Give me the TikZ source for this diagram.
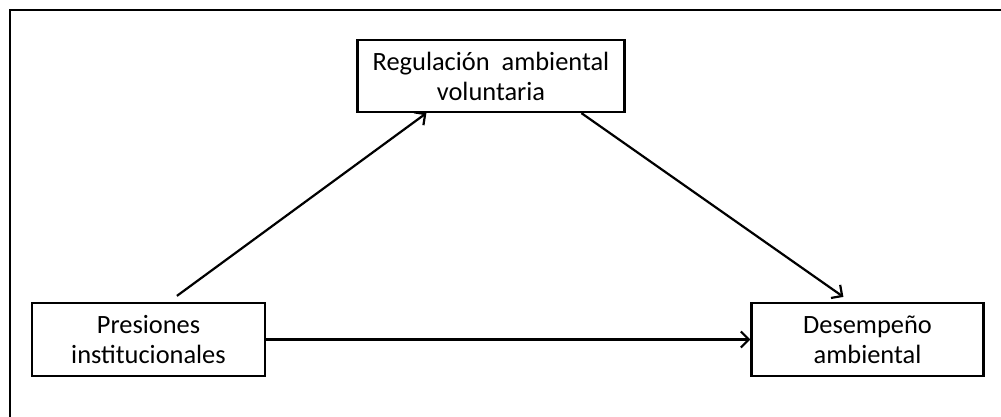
\documentclass[tikz,border=0pt]{standalone}
\usepackage{fontspec}
\setmainfont{Carlito}
\usetikzlibrary{arrows.meta, positioning}
\tikzstyle{block}=[draw,line width=1.1pt,fill=white,rectangle,align=center,inner sep=0pt]
\tikzstyle{every node}=[font=\fontsize{13.2}{15}\selectfont]
\tikzstyle{link}=[line width=1.1pt,-{Straight Barb[length=4pt,width=8pt,line width=1.1pt]}]

\begin{document}
\begin{tikzpicture}[x=0.5pt,y=-0.5pt]
    \useasboundingbox (0,0) rectangle (1001,417);
    \draw[line width=1.1pt] (10,417) -- (10,10) -- (1001,10);
    \node[block, minimum width=133.5pt, minimum height=36pt] (reg) at (491,76) {Regulación\ \ ambiental\\voluntaria};
    \node[block, minimum width=116.5pt, minimum height=36.5pt] (pres) at (148.5,339.5) {Presiones\\institucionales};
    \node[block, minimum width=116pt, minimum height=36.5pt] (des) at (867.5,339.5) {Desempeño\\ambiental};
    \draw[link] ([xshift=73pt,yshift=3pt]pres.north west) -- ([xshift=35pt]reg.south west);
    \draw[link] ([xshift=112.5pt]reg.south west) -- ([xshift=46.5pt,yshift=2.5pt]des.north west);
    \draw[link] (pres) -- (des);
\end{tikzpicture}
\end{document}
